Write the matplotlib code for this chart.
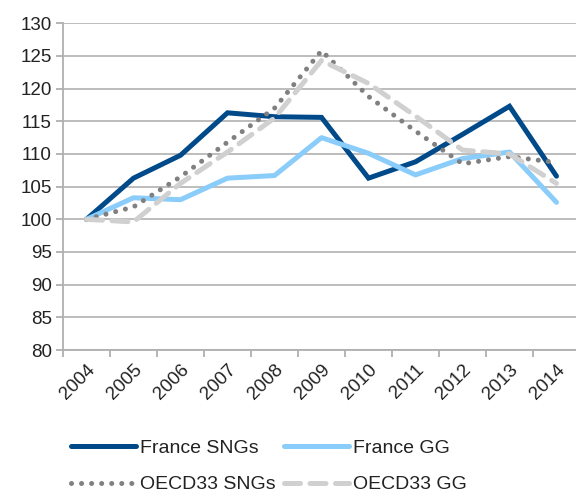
import matplotlib
matplotlib.use("Agg")
import matplotlib.pyplot as plt
import numpy as np

years = ["2004", "2005", "2006", "2007", "2008", "2009", "2010", "2011", "2012", "2013", "2014"]
france_sngs = [100, 106.3, 109.8, 116.3, 115.7, 115.6, 106.3, 108.8, 113.0, 117.3, 106.6]
france_gg = [100, 103.3, 103.0, 106.3, 106.7, 112.5, 110.1, 106.8, 109.3, 110.3, 102.6]
oecd_sngs = [100, 101.9, 106.5, 111.8, 117.0, 125.8, 118.8, 113.5, 108.5, 109.6, 108.7]
oecd_gg = [100, 99.6, 105.5, 110.3, 115.5, 124.3, 120.8, 115.8, 110.6, 110.0, 105.5]
yticks = [80, 85, 90, 95, 100, 105, 110, 115, 120, 125, 130]

plt.rcParams['font.family'] = ['Liberation Sans', 'DejaVu Sans']

fig = plt.figure(figsize=(5.76, 4.96), dpi=100)
ax = fig.add_axes([63/576, 1-350/496, 517/576, (350-23.3)/496])

x = np.arange(len(years))
l1, = ax.plot(x, france_sngs, color='#004A8A', lw=3.6, label='France SNGs', solid_capstyle='round', solid_joinstyle='miter', zorder=3)
l2, = ax.plot(x, france_gg, color='#8ACCFA', lw=3.6, label='France GG', solid_capstyle='round', zorder=3)
l3, = ax.plot(x, oecd_sngs, color='#808080', lw=3.6, label='OECD33 SNGs', linestyle=(0, (0.01, 2.0)), dash_capstyle='round', zorder=3)
l4, = ax.plot(x, oecd_gg, color='#D0D0D0', lw=3.6, label='OECD33 GG', linestyle=(0, (3.2, 1.9)), dash_capstyle='round', zorder=3)

ax.set_xlim(-0.5, len(years) - 0.5)
ax.set_ylim(80, 130)
ax.set_yticks(yticks)
ax.set_yticklabels([str(v) for v in yticks])
ax.set_xticks(x)
ax.set_xticklabels(years, rotation=45, ha='right', rotation_mode='anchor')
ax.set_xticks(np.arange(-0.5, len(years), 1.0), minor=True)
ax.tick_params(axis='x', which='major', length=0, pad=8, labelsize=13.5, labelcolor='#222222')
ax.tick_params(axis='x', which='minor', length=5, width=1.3, color='#B0B0B0', direction='out')
ax.tick_params(axis='y', length=5, width=1.3, color='#B0B0B0', pad=3, labelsize=13.5, labelcolor='#222222')

ax.grid(axis='y', color='#B8B8B8', lw=1.3, zorder=0)
ax.set_axisbelow(True)
for s in ['top', 'right']:
    ax.spines[s].set_visible(False)
for s in ['left', 'bottom']:
    ax.spines[s].set_color('#B0B0B0')
    ax.spines[s].set_linewidth(1.3)

leg = fig.legend([l1, l3, l2, l4], ['France SNGs', 'OECD33 SNGs', 'France GG', 'OECD33 GG'],
                 ncol=2, loc='center', bbox_to_anchor=(269/576, 1 - 466.5/496), frameon=False,
                 fontsize=14, handlelength=3.35, handletextpad=0.2, columnspacing=0.4,
                 labelspacing=0.95, labelcolor='#222222')

fig.savefig('out.png', dpi=100)
